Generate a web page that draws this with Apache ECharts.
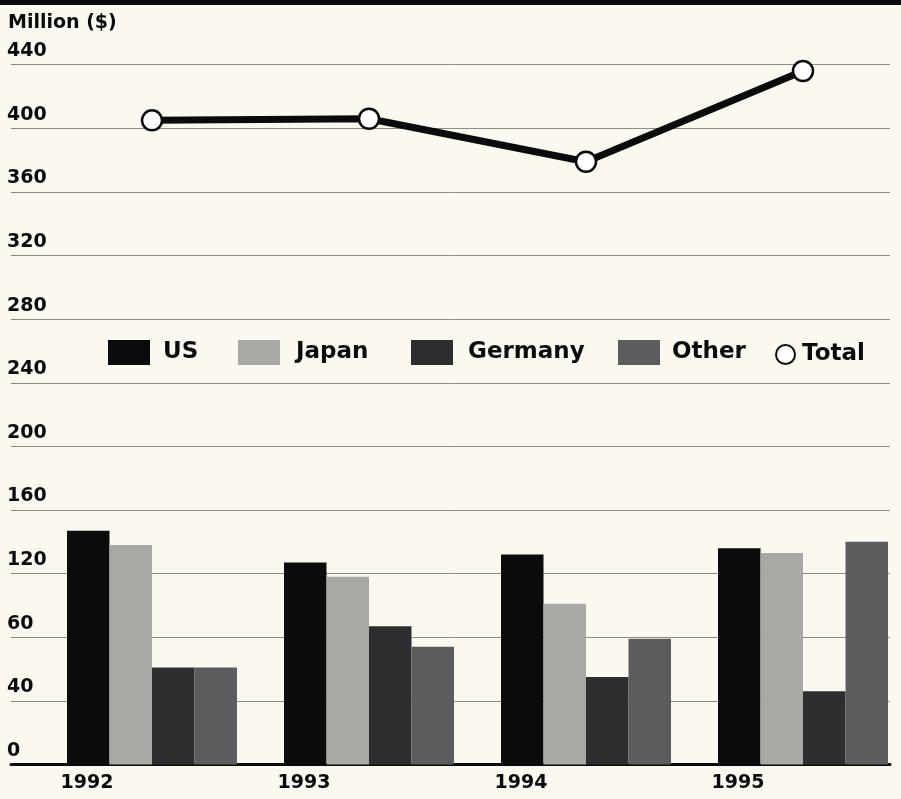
<!DOCTYPE html>
<html>
<head>
<meta charset="utf-8">
<title>Million ($)</title>
<script src="https://cdn.jsdelivr.net/npm/echarts@6/dist/echarts.min.js"></script>
<style>
  html, body { margin: 0; padding: 0; background: #fbf9ef; }
  #chart { width: 901px; height: 799px; }
</style>
</head>
<body>
<div id="chart"></div>
<script>
// Sales by market, million dollars
const years = ['1992', '1993', '1994', '1995'];
const us      = [147, 127, 132, 136];
const japan   = [138, 118, 101, 133];
const germany = [61, 87, 55, 46];
const other   = [61, 74, 79, 140];
const total   = [405, 406, 379, 436];
// Printed tick labels, bottom to top (one per 40-unit step)
const tickLabels = ['0', '40', '60', '120', '160', '200', '240', '280', '320', '360', '400', '440'];

const FONT = '"DejaVu Sans", sans-serif';
const INK = '#0b0b0c';
const GRID_TOP = 64.7;
const GRID_BOTTOM = 34.5;

const chart = echarts.init(document.getElementById('chart'), null, { renderer: 'canvas' });

function barSeries(name, data, color) {
  return {
    name: name,
    type: 'bar',
    xAxisIndex: 1,
    yAxisIndex: 1,
    data: data,
    barWidth: 42.5,
    barGap: '0%',
    itemStyle: { color: color },
    z: 3
  };
}

const legendText = { fontFamily: FONT, fontWeight: 'bold', fontSize: 23, color: INK };

function barLegend(name, left, textGap) {
  return {
    left: left, top: 340, padding: 0,
    itemWidth: 42, itemHeight: 25,
    icon: 'rect',
    data: [name],
    textStyle: Object.assign({ padding: [0, 0, 0, textGap] }, legendText)
  };
}

chart.setOption({
  backgroundColor: '#fbf9ef',
  animation: false,
  textStyle: { fontFamily: FONT },
  graphic: [
    { type: 'rect', shape: { x: 0, y: 0, width: 901, height: 5 }, style: { fill: INK }, z: 10 },
    {
      type: 'text', left: 8, top: 14,
      style: { text: 'Million ($)', font: 'bold 19px ' + FONT, fill: INK }
    }
  ],
  legend: [
    barLegend('US', 108, 8),
    barLegend('Japan', 238, 11),
    barLegend('Germany', 411, 10),
    barLegend('Other', 618, 7),
    {
      left: 775, top: 343, padding: 0,
      itemWidth: 19, itemHeight: 19,
      icon: 'circle',
      data: ['Total'],
      textStyle: Object.assign({ padding: [0, 0, 0, 2] }, legendText)
    }
  ],
  grid: [
    { left: 11, right: 11, top: GRID_TOP, bottom: GRID_BOTTOM, outerBoundsMode: 'none' },
    { left: 43.5, width: 868, top: GRID_TOP, bottom: GRID_BOTTOM, outerBoundsMode: 'none' }
  ],
  xAxis: [
    {
      gridIndex: 0, type: 'value', min: 0, max: 1,
      axisLine: { show: true, onZero: false, lineStyle: { color: INK, width: 3 } },
      axisTick: { show: false }, axisLabel: { show: false }, splitLine: { show: false }
    },
    {
      gridIndex: 1, type: 'category', data: years,
      axisLine: { show: false }, axisTick: { show: false },
      axisLabel: {
        margin: 9, align: 'center', padding: [0, 130, 0, 0],
        fontFamily: FONT, fontWeight: 'bold', fontSize: 19, lineHeight: 19, color: INK
      }
    }
  ],
  yAxis: [
    {
      gridIndex: 0, type: 'value', min: 0, max: 440, interval: 40,
      axisLine: { show: false }, axisTick: { show: false },
      splitLine: { show: true, lineStyle: { color: '#8f8a83', width: 1 } },
      axisLabel: {
        inside: true, margin: -4, verticalAlign: 'bottom', align: 'left',
        padding: [0, 0, 4, 0], lineHeight: 19,
        fontFamily: FONT, fontWeight: 'bold', fontSize: 19, color: INK,
        formatter: function (v) { return tickLabels[Math.round(v / 40)]; }
      }
    },
    {
      gridIndex: 1, type: 'value', min: 0, max: 440, interval: 40,
      show: false, splitLine: { show: false }
    }
  ],
  series: [
    barSeries('US', us, '#0b0b0c'),
    barSeries('Japan', japan, '#a9a8a5'),
    barSeries('Germany', germany, '#2e2e31'),
    barSeries('Other', other, '#5c5c5e'),
    {
      name: 'Total',
      type: 'line',
      xAxisIndex: 1,
      yAxisIndex: 1,
      data: total,
      symbol: 'circle',
      symbolSize: 20,
      lineStyle: { color: INK, width: 7 },
      itemStyle: { color: '#ffffff', borderColor: INK, borderWidth: 2.5 },
      z: 5
    }
  ]
});
</script>
</body>
</html>
